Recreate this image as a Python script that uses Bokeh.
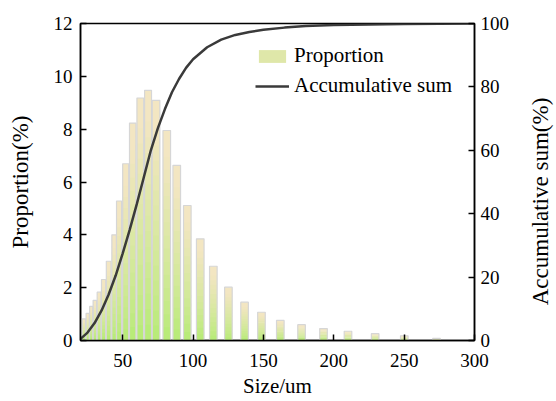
import numpy as np
from bokeh.plotting import figure
from bokeh.models import Range1d, LinearAxis, FixedTicker, Legend, LegendItem, Label
from bokeh.embed import file_html
from bokeh.resources import INLINE

# ---- data ----
size_um = [22.4, 25.1, 27.6, 30.2, 33.2, 36.4, 40.0, 43.9, 47.4, 52.1, 57.1, 62.5,
           68.0, 73.7, 81.3, 88.4, 95.9, 105.1, 114.4, 125.1, 136.6, 148.6, 162.0,
           177.1, 192.7, 210.1, 229.4, 250.1, 273.0]
proportion = [0.82, 1.03, 1.29, 1.52, 1.83, 2.31, 3.0, 4.0, 5.28, 6.69, 8.23, 9.18,
              9.47, 9.09, 7.95, 6.63, 5.11, 3.85, 2.81, 2.02, 1.45, 1.07, 0.76,
              0.6, 0.45, 0.35, 0.26, 0.18, 0.08]

curve_size = [20, 25, 30, 35, 40, 45, 50, 55, 60, 65, 70, 75, 80, 85, 90, 95, 100,
              110, 120, 130, 140, 150, 165, 180, 200, 225, 250, 275, 300]
curve_cum = [0.5, 2.5, 5.5, 9.5, 14.5, 20.5, 27.5, 35.0, 43.0, 51.5, 60.0, 67.0,
             73.0, 78.3, 82.5, 86.0, 88.7, 92.5, 94.9, 96.4, 97.3, 98.0, 98.7,
             99.2, 99.5, 99.7, 99.85, 99.95, 100.0]

x_ticks = [50, 100, 150, 200, 250, 300]
left_ticks = [0, 2, 4, 6, 8, 10, 12]
right_ticks = [0, 20, 40, 60, 80, 100]

FONT = "Liberation Serif"
W, H = 556, 401
BL, BR, BT, BB = 80, 82, 23, 61

p = figure(width=W, height=H, output_backend="svg", toolbar_location=None,
           x_range=Range1d(20, 300), y_range=Range1d(0, 12),
           min_border_left=BL, min_border_right=BR, min_border_top=BT, min_border_bottom=BB)
p.extra_y_ranges = {"cum": Range1d(0, 100)}
p.xgrid.visible = False
p.ygrid.visible = False
p.outline_line_color = "black"
p.outline_line_width = 1.5
p.background_fill_color = "white"
p.border_fill_color = "white"

# bar widths from local spacing
xs = np.array(size_um)
hs = np.array(proportion)
sp = np.empty_like(xs)
sp[1:-1] = (xs[2:] - xs[:-2]) / 2
sp[0] = xs[1] - xs[0]
sp[-1] = xs[-1] - xs[-2]
widths = np.minimum(0.88 * sp, 5.4)

# vertical gradient per bar: green at bottom -> beige at top
green = np.array([180, 236, 115])
beige = np.array([243, 230, 194])
N = 16
slice_renderers = []
for k in range(N):
    t = (k + 0.5) / N
    tt = min(1.0, t ** 0.75 * 1.1)
    c = (green + (beige - green) * tt).astype(int)
    col = "#%02x%02x%02x" % tuple(c)
    bottom = hs * k / N
    top = np.minimum(hs, hs * (k + 1.4) / N)
    r = p.vbar(x=xs, width=widths, bottom=bottom, top=top, fill_color=col,
               line_color=None)
    slice_renderers.append(r)

p.vbar(x=xs, width=widths, bottom=0, top=hs, fill_color=None,
       line_color="#d6d6d6", line_width=1.2)

line = p.line(curve_size, curve_cum, y_range_name="cum", line_color="#3a3a3a",
              line_width=2.5)

# axes
def style_axis(ax):
    ax.axis_line_color = "black"
    ax.axis_line_width = 1.5
    ax.major_tick_line_color = "black"
    ax.major_tick_line_width = 1.5
    ax.major_tick_in = 6
    ax.major_tick_out = 0
    ax.minor_tick_line_color = None
    ax.major_label_text_font = FONT
    ax.major_label_text_font_size = "19px"
    ax.major_label_text_color = "black"
    ax.axis_label_text_font = FONT
    ax.axis_label_text_font_style = "normal"
    ax.axis_label_text_color = "black"

xa = p.xaxis[0]
style_axis(xa)
xa.ticker = FixedTicker(ticks=x_ticks)
xa.axis_label = "Size/um"
xa.axis_label_text_font_size = "21px"
xa.major_label_standoff = 13
xa.axis_label_standoff = 4

ya = p.yaxis[0]
style_axis(ya)
ya.ticker = FixedTicker(ticks=left_ticks)
ya.axis_label = "Proportion(%)"
ya.axis_label_text_font_size = "23px"
ya.major_label_standoff = 8
ya.axis_label_standoff = 18

ra = LinearAxis(y_range_name="cum", ticker=FixedTicker(ticks=right_ticks))
style_axis(ra)
ra.major_label_standoff = 6
p.add_layout(ra, "right")

# right axis title (reads bottom-to-top), placed in the right side panel
right_title = Label(x=28, y=139, x_units="screen", y_units="screen",
                    text="Accumulative sum(%)", angle=np.pi / 2,
                    text_align="center", text_baseline="middle",
                    text_font=FONT, text_font_size="23px", text_color="black")
p.add_layout(right_title, "right")

legend = Legend(items=[LegendItem(label="Proportion", renderers=[slice_renderers[N // 2]]),
                       LegendItem(label="Accumulative sum", renderers=[line])],
                location=(175, 242))
legend.border_line_color = None
legend.background_fill_alpha = 0
legend.padding = 0
legend.margin = 0
legend.spacing = 5
legend.glyph_width = 34
legend.glyph_height = 16
legend.label_height = 20
legend.label_standoff = 5
legend.label_text_font = FONT
legend.label_text_font_size = "21px"
legend.label_text_color = "black"
p.add_layout(legend)

open("out.html", "w").write(file_html(p, INLINE))
